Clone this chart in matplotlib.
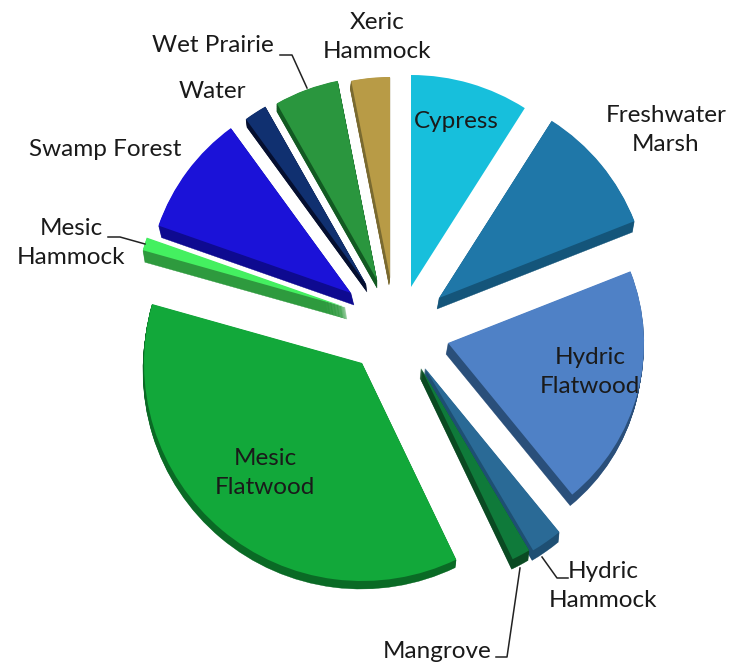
import matplotlib
matplotlib.use('Agg')
import matplotlib.pyplot as plt
from matplotlib.patches import Wedge

# share of each community, clockwise from 12 o'clock
names = ['Cypress', 'Freshwater Marsh', 'Hydric Flatwood', 'Hydric Hammock', 'Mangrove',
         'Mesic Flatwood', 'Mesic Hammock', 'Swamp Forest', 'Water', 'Wet Prairie', 'Xeric Hammock']
shares = [9.0, 10.0, 20.0, 2.4, 1.4, 36.4, 1.0, 9.6, 1.8, 5.1, 3.1]

top_colors = ['#17bfdc', '#1f77a8', '#4f81c6', '#2a6a96', '#0f7a3a', '#12a83a',
              '#44f060', '#1b12d8', '#103070', '#2a963e', '#b89b46']
side_colors = ['#0f8ca3', '#14557a', '#2a4f7a', '#1e4f73', '#0a4a22', '#0a6a25',
               '#2e9a3e', '#0e0a90', '#050f30', '#125a22', '#7a6a30']

H = 665

# tip of every exploded slice in pixels, its radius and how far its wall drops
tips = [(411, 287), (439, 298), (448, 343), (425, 368), (421, 368), (362, 363),
        (345, 307), (351, 293), (366, 284), (377, 280), (390, 277)]
radii = [212, 210, 196, 212, 212, 218, 210, 204, 204, 203, 200]
drops = [(0, 0), (-2, 11), (-2, 11), (-1, 10), (-1, 10), (-1, 8),
         (2, 12), (3, 12), (1, 8), (0, 8), (-1, 8)]
STEPS = 12

fig = plt.figure(figsize=(7.3, 6.65), dpi=100)
ax = fig.add_axes([0, 0, 1, 1])
ax.set_xlim(0, 730)
ax.set_ylim(0, H)
ax.axis('off')

total = sum(shares)
start = 0
for i in range(len(shares)):
    sweep = shares[i] / total * 360
    th1, th2 = 90 - start - sweep, 90 - start
    tx, ty = tips[i]
    # wall is a stack of darker copies sliding out to the drop offset
    for s in range(STEPS, 0, -1):
        dx = drops[i][0] * s / STEPS
        dy = drops[i][1] * s / STEPS
        if drops[i] != (0, 0):
            ax.add_patch(Wedge((tx + dx, H - ty - dy), radii[i], th1, th2,
                               fc=side_colors[i], ec=side_colors[i], lw=0.3))
    ax.add_patch(Wedge((tx, H - ty), radii[i], th1, th2, fc=top_colors[i], ec='none'))
    start += sweep

FONT = ['Lato', 'DejaVu Sans']
labels = [
    ('Cypress', 456, 121),
    ('Freshwater\nMarsh', 666, 130),
    ('Hydric\nFlatwood', 590, 372),
    ('Hydric\nHammock', 603, 586),
    ('Mangrove', 437, 651),
    ('Mesic\nFlatwood', 265, 473),
    ('Mesic\nHammock', 71, 243),
    ('Swamp Forest', 105, 150),
    ('Water', 212, 92),
    ('Wet Prairie', 213, 46),
    ('Xeric\nHammock', 377, 37),
]
for text, x, y in labels:
    ax.text(x, H - y, text, ha='center', va='center', fontsize=17.5, family=FONT,
            color='#1a1a1a', linespacing=1.42)

leaders = [
    ([280, 292, 307], [55, 55, 88]),
    ([542, 557, 568], [557, 578, 578]),
    ([520, 507, 496], [568, 657, 657]),
    ([108, 120, 145], [237, 237, 244]),
]
for xs, ys in leaders:
    ax.plot(xs, [H - y for y in ys], color='#222222', lw=1.1)

fig.savefig('out.png', dpi=100)
